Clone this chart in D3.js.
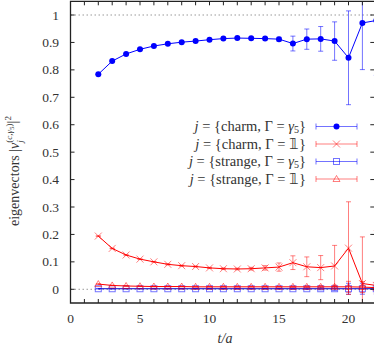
<!DOCTYPE html>
<html>
<head>
<meta charset="utf-8">
<script src="https://cdn.jsdelivr.net/npm/d3@7/dist/d3.min.js"></script>
<style>
  body { margin: 0; background: #fff; }
</style>
</head>
<body>
<div id="chart"></div>
<script>
// time slices t/a
const tValues = [2, 3, 4, 5, 6, 7, 8, 9, 10, 11, 12, 13, 14, 15, 16, 17, 18, 19, 20, 21, 22];

// j = {charm, Gamma = gamma5}
const charmG5 = [0.784, 0.832, 0.858, 0.875, 0.887, 0.895, 0.901, 0.905, 0.910, 0.914, 0.916,
  0.915, 0.914, 0.912, 0.896, 0.912, 0.913, 0.905, 0.844, 0.971, 0.980];
const charmG5Err = [0.001, 0.001, 0.001, 0.001, 0.001, 0.002, 0.002, 0.002, 0.002, 0.003, 0.003,
  0.003, 0.004, 0.007, 0.027, 0.037, 0.045, 0.070, 0.171, 0.170, 0.200];

// j = {charm, Gamma = 1}
const charm1 = [0.194, 0.149, 0.125, 0.110, 0.100, 0.091, 0.086, 0.083, 0.078, 0.075, 0.074,
  0.075, 0.078, 0.081, 0.097, 0.082, 0.079, 0.085, 0.150, 0.021, 0.014];
const charm1Err = [0.001, 0.001, 0.001, 0.001, 0.001, 0.002, 0.002, 0.002, 0.002, 0.003, 0.003,
  0.005, 0.008, 0.015, 0.025, 0.036, 0.044, 0.075, 0.169, 0.170, 0.200];

// j = {strange, Gamma = gamma5}
const strangeG5 = [0.002, 0.002, 0.002, 0.002, 0.002, 0.002, 0.002, 0.002, 0.002, 0.002, 0.002,
  0.002, 0.002, 0.002, 0.002, 0.002, 0.002, 0.002, 0.002, 0.002, 0.002];
const strangeG5Err = [0.001, 0.001, 0.001, 0.001, 0.001, 0.001, 0.001, 0.001, 0.001, 0.001, 0.001,
  0.001, 0.001, 0.001, 0.002, 0.003, 0.004, 0.006, 0.020, 0.020, 0.020];

// j = {strange, Gamma = 1}
const strange1 = [0.019, 0.014, 0.012, 0.011, 0.010, 0.010, 0.010, 0.009, 0.009, 0.009, 0.009,
  0.009, 0.009, 0.009, 0.009, 0.009, 0.009, 0.009, 0.009, 0.008, 0.006];
const strange1Err = [0.001, 0.001, 0.001, 0.001, 0.001, 0.001, 0.001, 0.001, 0.001, 0.001, 0.001,
  0.001, 0.001, 0.001, 0.002, 0.003, 0.004, 0.006, 0.020, 0.020, 0.020];

const xTicks = [0, 5, 10, 15, 20];
const yTicks = [0, 0.1, 0.2, 0.3, 0.4, 0.5, 0.6, 0.7, 0.8, 0.9, 1];

const w = 374, h = 346;
const pLeft = 70.5, pRight = 376.3, pTop = 1.3, pBottom = 303;
const serif = "'Liberation Serif', 'Times New Roman', serif";

const x = d3.scaleLinear().domain([0, 22]).range([pLeft, pRight]);
const y = d3.scaleLinear().domain([-0.05, 1.05]).range([pBottom, pTop]);

const svg = d3.select('#chart').append('svg')
  .attr('width', w).attr('height', h)
  .attr('font-family', serif)
  .attr('fill', '#333');

svg.append('clipPath').attr('id', 'clip')
  .append('rect').attr('x', pLeft).attr('y', pTop)
  .attr('width', pRight - pLeft).attr('height', pBottom - pTop);

// dotted reference lines at 0 and 1
svg.selectAll('line.ref').data([0, 1]).enter().append('line')
  .attr('class', 'ref')
  .attr('x1', pLeft).attr('x2', pRight)
  .attr('y1', d => y(d)).attr('y2', d => y(d))
  .attr('stroke', '#999').attr('stroke-width', 1)
  .attr('stroke-dasharray', '1.5,2.5');

// series definitions
const series = [
  { name: 'charm', gam: 'γ5', vals: charmG5, errs: charmG5Err, color: '#0000ff', light: 'rgba(0,0,255,0.55)', marker: 'circle' },
  { name: 'charm', gam: '𝟙', vals: charm1, errs: charm1Err, color: '#ff0000', light: 'rgba(255,0,0,0.5)', marker: 'cross' },
  { name: 'strange', gam: 'γ5', vals: strangeG5, errs: strangeG5Err, color: '#0000cc', light: 'rgba(0,0,255,0.55)', marker: 'square' },
  { name: 'strange', gam: '𝟙', vals: strange1, errs: strange1Err, color: '#ff0000', light: 'rgba(255,0,0,0.5)', marker: 'triangle' }
];

// draw a marker of the given type at (cx, cy)
function drawMarker(g, type, cx, cy, s) {
  if (type === 'circle') {
    g.append('circle').attr('cx', cx).attr('cy', cy).attr('r', 3)
      .attr('fill', s.color);
  } else if (type === 'cross') {
    g.append('path')
      .attr('d', `M${cx - 3.5},${cy - 3.5}L${cx + 3.5},${cy + 3.5}M${cx - 3.5},${cy + 3.5}L${cx + 3.5},${cy - 3.5}`)
      .attr('stroke', s.light).attr('stroke-width', 1).attr('fill', 'none');
  } else if (type === 'square') {
    g.append('rect').attr('x', cx - 3).attr('y', cy - 3)
      .attr('width', 6).attr('height', 6)
      .attr('stroke', s.light).attr('stroke-width', 1).attr('fill', 'none');
  } else {
    g.append('path')
      .attr('d', `M${cx},${cy - 3.5}L${cx + 3.5},${cy + 2.5}L${cx - 3.5},${cy + 2.5}Z`)
      .attr('stroke', s.light).attr('stroke-width', 1).attr('fill', 'none');
  }
}

const plot = svg.append('g').attr('clip-path', 'url(#clip)');

const line = d3.line().x(d => x(d.t)).y(d => y(d.v));

// draw series back to front: strange first, charm last
[2, 3, 1, 0].forEach(i => {
  const s = series[i];
  const pts = tValues.map((t, k) => ({ t: t, v: s.vals[k], e: s.errs[k] }));
  const g = plot.append('g');

  // error bars
  pts.forEach(p => {
    const px = x(p.t), y0 = y(p.v - p.e), y1 = y(p.v + p.e);
    g.append('path')
      .attr('d', `M${px},${y0}V${y1}M${px - 2.5},${y0}H${px + 2.5}M${px - 2.5},${y1}H${px + 2.5}`)
      .attr('stroke', s.light).attr('stroke-width', 1).attr('fill', 'none');
  });

  g.append('path').datum(pts)
    .attr('d', line)
    .attr('fill', 'none')
    .attr('stroke', s.color)
    .attr('stroke-width', 1);

  pts.forEach(p => drawMarker(g, s.marker, x(p.t), y(p.v), s));
});

// axis frame
svg.append('path')
  .attr('d', `M${pRight},${pTop}H${pLeft}V${pBottom}H${pRight}`)
  .attr('fill', 'none').attr('stroke', '#222').attr('stroke-width', 1.3);

// x ticks every unit, bottom and top
const xMinor = d3.range(1, 22);
svg.selectAll('path.xt').data(xMinor).enter().append('path')
  .attr('class', 'xt')
  .attr('d', d => `M${x(d)},${pBottom}V${pBottom - 4}M${x(d)},${pTop}V${pTop + 4}`)
  .attr('stroke', '#222').attr('stroke-width', 1);

// y ticks left and right
svg.selectAll('path.yt').data(yTicks).enter().append('path')
  .attr('class', 'yt')
  .attr('d', d => `M${pLeft},${y(d)}H${pLeft + 4}M${pRight},${y(d)}H${pRight - 6}`)
  .attr('stroke', '#222').attr('stroke-width', 1);

// tick labels
svg.selectAll('text.xl').data(xTicks).enter().append('text')
  .attr('class', 'xl')
  .attr('x', d => x(d)).attr('y', 323)
  .attr('text-anchor', 'middle')
  .attr('font-size', 13.5)
  .text(d => d);

svg.selectAll('text.yl').data(yTicks).enter().append('text')
  .attr('class', 'yl')
  .attr('x', 59).attr('y', d => y(d) + 4.5)
  .attr('text-anchor', 'end')
  .attr('font-size', 13.5)
  .text(d => d3.format('.1~f')(d));

// x label
svg.append('text')
  .attr('x', 225).attr('y', 343)
  .attr('text-anchor', 'middle')
  .attr('font-size', 14)
  .attr('font-style', 'italic')
  .text('t/a');

// y label, rotated, reading bottom to top
const yl = svg.append('text')
  .attr('transform', 'translate(19,226) rotate(-90)')
  .attr('text-anchor', 'start')
  .attr('font-size', 14);
yl.append('tspan').text('eigenvectors  |');
yl.append('tspan').attr('font-style', 'italic').text('v');
yl.append('tspan').attr('dy', 4).attr('font-size', 9).attr('font-style', 'italic').text('j');
yl.append('tspan').attr('dx', -2.5).attr('dy', -11).attr('font-size', 9).text('(');
yl.append('tspan').attr('font-size', 9).attr('font-style', 'italic').text('c');
yl.append('tspan').attr('font-size', 9).text(',');
yl.append('tspan').attr('font-size', 9).attr('font-style', 'italic').text('γ');
yl.append('tspan').attr('dy', 2).attr('font-size', 7).text('5');
yl.append('tspan').attr('dy', -2).attr('font-size', 9).text(')');
yl.append('tspan').attr('dy', 5).text('|');
yl.append('tspan').attr('dy', -6).attr('font-size', 9).text('2');

// legend
const legRows = [126.5, 144, 161.5, 179];
series.forEach((s, i) => {
  const ly = legRows[i];
  const t = svg.append('text')
    .attr('x', 306).attr('y', ly + 4.5)
    .attr('text-anchor', 'end')
    .attr('font-size', 14.5);
  t.append('tspan').attr('font-style', 'italic').text('j');
  t.append('tspan').text(' = {' + s.name + ', Γ = ');
  if (s.gam === 'γ5') {
    t.append('tspan').attr('font-style', 'italic').text('γ');
    t.append('tspan').attr('dy', 2).attr('font-size', 10).text('5');
    t.append('tspan').attr('dy', -2).text('}');
  } else {
    t.append('tspan').text('  ' + s.gam + '}');
  }
  const g = svg.append('g');
  g.append('path')
    .attr('d', `M316,${ly}H357M316,${ly - 3}V${ly + 3}M357,${ly - 3}V${ly + 3}`)
    .attr('stroke', s.light).attr('stroke-width', 1).attr('fill', 'none');
  drawMarker(g, s.marker, 336.5, ly, s);
});
</script>
</body>
</html>
